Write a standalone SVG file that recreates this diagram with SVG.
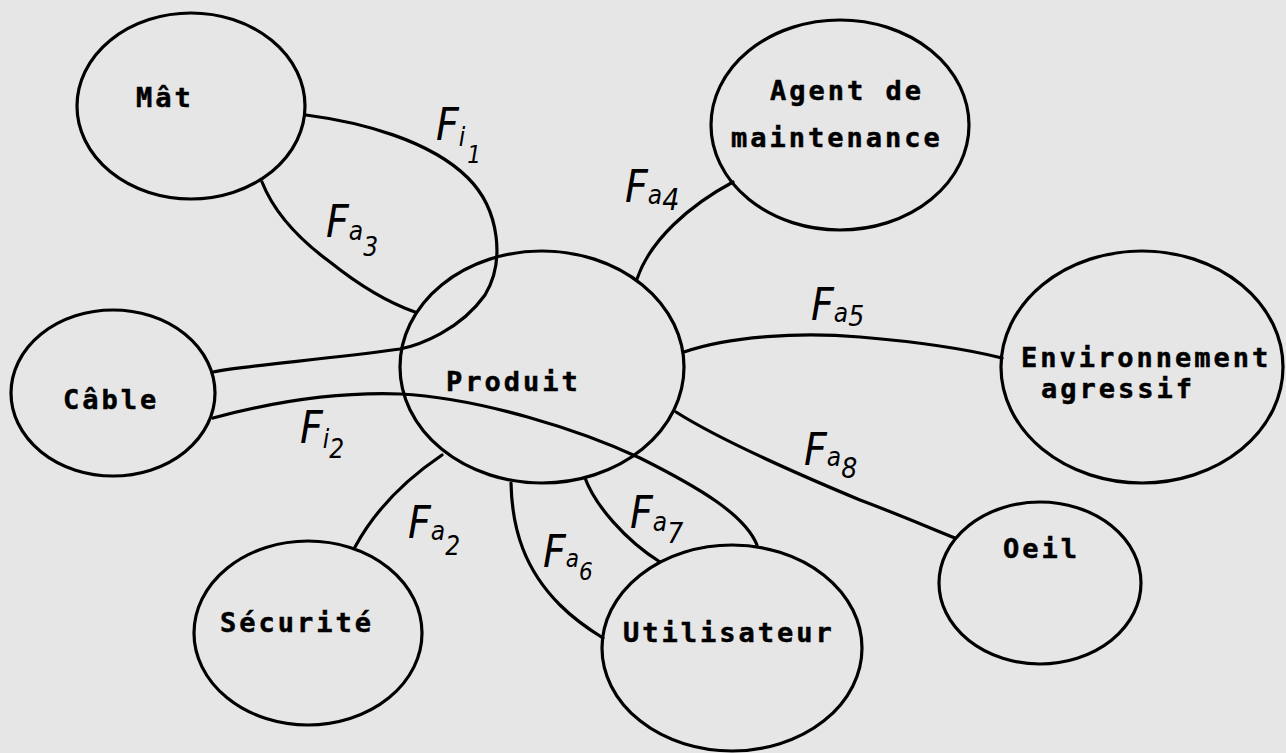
<svg xmlns="http://www.w3.org/2000/svg" width="1286" height="753" viewBox="0 0 1286 753">
<style>
.bg{fill:#e6e6e6}
.node{fill:none;stroke:#000;stroke-width:3.2}
.link{fill:none;stroke:#000;stroke-width:3.2;stroke-linecap:round}
.t{font-family:"DejaVu Sans Mono","Liberation Mono",monospace;font-weight:bold;font-size:27px;letter-spacing:3px;fill:#000;stroke:#000;stroke-width:0.5}
.h{font-family:"DejaVu Sans Condensed","DejaVu Sans",sans-serif;font-style:italic;font-size:44px;fill:#000}
</style>
<rect class="bg" x="0" y="0" width="1286" height="753"/>
<g id="connectors">
  <path id="Fi1" class="link" d="M306,115 C360,122 430,140 468,178 C500,210 505,262 485,295 C460,330 420,345 400,349 C320,360 250,365 213,372"/>
  <path id="Fa3" class="link" d="M262,182 C275,215 300,240 330,262 C365,290 395,305 415,312"/>
  <path id="Fa4" class="link" d="M637,279 C650,240 690,205 733,182"/>
  <path id="Fa5" class="link" d="M684,352 C730,336 800,332 860,337 C920,342 970,350 1002,358"/>
  <path id="Fa8" class="link" d="M676,412 C720,440 800,475 860,500 C900,515 930,528 955,538"/>
  <path id="Fi2" class="link" d="M213,418 C280,400 340,392 400,394 C480,398 580,430 640,458 C700,488 745,515 757,545"/>
  <path id="Fa2" class="link" d="M442,455 C405,480 375,510 355,547"/>
  <path id="Fa6" class="link" d="M511,483 C512,530 525,570 560,605 C575,620 590,630 603,638"/>
  <path id="Fa7" class="link" d="M585,478 C595,505 625,540 660,562"/>
</g>
<g id="labels">
  <text class="h" x="436" y="140">F<tspan font-size="26" dy="6">i</tspan><tspan font-size="24" dx="2" dy="17">1</tspan></text>
  <text class="h" x="326" y="237">F<tspan font-size="26" dy="3">a</tspan><tspan font-size="26" dy="16">3</tspan></text>
  <text class="h" x="625" y="202">F<tspan font-size="26" dy="2">a</tspan><tspan font-size="30" dy="6">4</tspan></text>
  <text class="h" x="811" y="320">F<tspan font-size="26" dy="2">a</tspan><tspan font-size="28" dy="4">5</tspan></text>
  <text class="h" x="804" y="465">F<tspan font-size="26" dy="1">a</tspan><tspan font-size="28" dy="12">8</tspan></text>
  <text class="h" x="408" y="538">F<tspan font-size="26" dy="2">a</tspan><tspan font-size="26" dy="15">2</tspan></text>
  <text class="h" x="300" y="443">F<tspan font-size="26" dy="5">i</tspan><tspan font-size="26" dy="10">2</tspan></text>
  <text class="h" x="543" y="567">F<tspan font-size="24">a</tspan><tspan font-size="24" dy="13">6</tspan></text>
  <text class="h" x="630" y="528">F<tspan font-size="26" dy="3">a</tspan><tspan font-size="28" dy="12">7</tspan></text>
</g>
<g id="node-mat">
  <ellipse class="node" cx="191" cy="106" rx="114" ry="93"/>
  <text class="t" x="136" y="107">Mât</text>
</g>
<g id="node-agent">
  <ellipse class="node" cx="840" cy="125" rx="129" ry="105"/>
  <text class="t" x="770" y="100">Agent de</text>
  <text class="t" x="731" y="147">maintenance</text>
</g>
<g id="node-produit">
  <ellipse class="node" cx="542" cy="367" rx="142" ry="116"/>
  <text class="t" x="446" y="391">Produit</text>
</g>
<g id="node-cable">
  <ellipse class="node" cx="113" cy="393" rx="102" ry="83"/>
  <text class="t" x="63" y="409">Câble</text>
</g>
<g id="node-environnement">
  <ellipse class="node" cx="1142" cy="367" rx="141" ry="116"/>
  <text class="t" x="1021" y="367">Environnement</text>
  <text class="t" x="1041" y="398">agressif</text>
</g>
<g id="node-oeil">
  <ellipse class="node" cx="1040" cy="583" rx="101" ry="81"/>
  <text class="t" x="1003" y="558">Oeil</text>
</g>
<g id="node-utilisateur">
  <ellipse class="node" cx="732" cy="648" rx="130" ry="103"/>
  <text class="t" x="623" y="642">Utilisateur</text>
</g>
<g id="node-securite">
  <ellipse class="node" cx="308" cy="633" rx="114" ry="92"/>
  <text class="t" x="220" y="632">Sécurité</text>
</g>
</svg>
